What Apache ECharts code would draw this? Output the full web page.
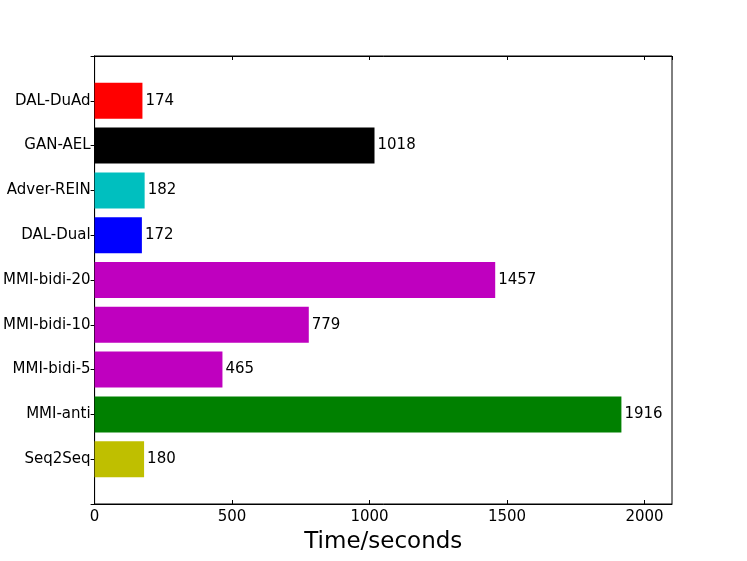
<!DOCTYPE html>
<html><head><meta charset="utf-8">
<script src="https://cdn.jsdelivr.net/npm/echarts@6/dist/echarts.min.js"></script>
<style>html,body{margin:0;padding:0;background:#fff}#c{width:747px;height:561px}</style>
</head><body><div id="c"></div>
<script>
const categories = ['', 'Seq2Seq', 'MMI-anti', 'MMI-bidi-5', 'MMI-bidi-10', 'MMI-bidi-20', 'DAL-Dual', 'Adver-REIN', 'GAN-AEL', 'DAL-DuAd', ''];
const values = [null, 180, 1916, 465, 779, 1457, 172, 182, 1018, 174, null];
const colors = ['#000', '#bfbf00', '#008000', '#bf00bf', '#bf00bf', '#bf00bf', '#0000ff', '#00bfbf', '#000000', '#ff0000', '#000'];
const xTicks = [0, 500, 1000, 1500, 2000];

const chart = echarts.init(document.getElementById('c'), null, {renderer: 'canvas'});
const font = 'DejaVu Sans';
chart.setOption({
  animation: false,
  backgroundColor: '#fff',
  grid: {left: 93, right: 75, top: 56, bottom: 57, show: true, borderColor: '#000', borderWidth: 1, containLabel: false},
  xAxis: [{
    type: 'value', min: 0, max: 2100, interval: 500, position: 'bottom',
    name: 'Time/seconds', nameLocation: 'middle', nameGap: 27,
    nameTextStyle: {fontFamily: font, fontSize: 23, color: '#000'},
    axisLine: {show: true, lineStyle: {color: '#000', width: 1}},
    axisTick: {show: true, inside: true, length: 4, lineStyle: {color: '#000'}},
    axisLabel: {fontFamily: font, fontSize: 15, color: '#000', margin: 6, showMaxLabel: false,
      formatter: v => xTicks.includes(v) ? String(v) : ''},
    splitLine: {show: false}
  }, {
    type: 'value', min: 0, max: 2100, interval: 500, position: 'top',
    axisLine: {show: true, lineStyle: {color: '#000', width: 1}},
    axisTick: {show: true, inside: true, length: 4, lineStyle: {color: '#000'}},
    axisLabel: {show: false}, splitLine: {show: false}
  }],
  yAxis: [{
    type: 'category', data: categories, boundaryGap: false, position: 'left',
    axisLine: {show: true, lineStyle: {color: '#000', width: 1}},
    axisTick: {show: true, inside: true, length: 4, alignWithLabel: true, lineStyle: {color: '#000'}},
    axisLabel: {fontFamily: font, fontSize: 15, color: '#000', margin: 4, interval: 0},
    splitLine: {show: false}
  }, {
    type: 'category', data: categories, boundaryGap: false, position: 'right',
    axisLine: {show: true, lineStyle: {color: '#000', width: 1}},
    axisTick: {show: true, inside: true, length: 4, lineStyle: {color: '#000'}},
    axisLabel: {show: false}, splitLine: {show: false}
  }],
  series: [{
    type: 'bar', xAxisIndex: 0, yAxisIndex: 0,
    data: values.map((v, i) => ({value: v, itemStyle: {color: colors[i]}})),
    barWidth: 36,
    label: {show: true, position: 'right', distance: 3, fontFamily: font, fontSize: 15, color: '#000'}
  }]
});
</script></body></html>
